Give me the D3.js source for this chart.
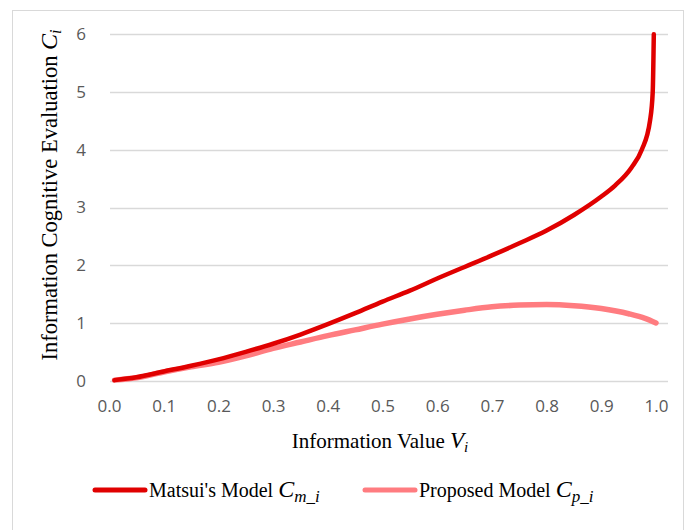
<!DOCTYPE html>
<html><head><meta charset="utf-8">
<script src="https://cdn.jsdelivr.net/npm/d3@7"></script>
<style>body{margin:0;background:#fff}svg{display:block}</style>
</head><body>
<svg id="c" width="695" height="530"></svg>
<script>
// Data
const xTicks = [0.0,0.1,0.2,0.3,0.4,0.5,0.6,0.7,0.8,0.9,1.0];
const yTicks = [0,1,2,3,4,5,6];
const matsuiV = [0.01,0.05,0.1,0.15,0.2,0.25,0.3,0.35,0.4,0.45,0.5,0.55,0.6,0.65,0.7,0.75,0.8,0.85,0.9,0.925,0.955,0.974,0.989,0.994,0.996];
const matsuiC = [0.01,0.06,0.16,0.26,0.37,0.5,0.64,0.8,0.98,1.17,1.37,1.56,1.77,1.97,2.17,2.38,2.6,2.87,3.19,3.38,3.69,4.0,4.5,5.0,6.0];
const proposedV = [0.01,0.05,0.1,0.15,0.2,0.25,0.3,0.35,0.4,0.45,0.5,0.55,0.6,0.65,0.7,0.75,0.8,0.85,0.9,0.95,0.98,1.0];
const proposedC = [0.01,0.05,0.15,0.24,0.32,0.43,0.56,0.67,0.78,0.88,0.98,1.07,1.15,1.22,1.28,1.31,1.32,1.3,1.25,1.16,1.08,1.0];
const seriesNames = ["Matsui's Model ", "Proposed Model "];
const seriesSubs = ["m_i", "p_i"];
const colors = ["#E00000", "#FF7C80"];

const svg = d3.select("#c");
// outer chart border
svg.append("rect").attr("x",12.5).attr("y",10.5).attr("width",671).attr("height",540)
  .attr("fill","#fff").attr("stroke","#D9D9D9").attr("stroke-width",1);

const x = d3.scaleLinear().domain([0,1]).range([109,656]);
const y = d3.scaleLinear().domain([0,6]).range([380.7,34.3]);
const gridX0 = 110, gridX1 = 668;

// gridlines
svg.append("g").selectAll("line").data(yTicks).join("line")
  .attr("x1",gridX0).attr("x2",gridX1)
  .attr("y1",d=>Math.round(y(d))+0.5).attr("y2",d=>Math.round(y(d))+0.5)
  .attr("stroke","#D9D9D9").attr("stroke-width",1.3);

// y tick labels
const yAxis = d3.axisLeft(y).tickValues(yTicks).tickSize(0).tickPadding(0).tickFormat(d3.format("d"));
const gy = svg.append("g").attr("transform",`translate(86,0)`).call(yAxis);
gy.select(".domain").remove();
gy.selectAll("text").attr("font-family","'Open Sans', sans-serif").attr("font-size","17px").attr("fill","#595959");

// x tick labels
const xAxis = d3.axisBottom(x).tickValues(xTicks).tickSize(0).tickPadding(0).tickFormat(d3.format(".1f"));
const gx = svg.append("g").attr("transform",`translate(0,400)`).call(xAxis);
gx.select(".domain").remove();
gx.selectAll("text").attr("font-family","'Open Sans', sans-serif").attr("font-size","17px").attr("fill","#595959");

// lines
const line = d3.line().x(d=>x(d[0])).y(d=>y(d[1])).curve(d3.curveMonotoneX);
const proposed = proposedV.map((v,i)=>[v,proposedC[i]]);
const matsui = matsuiV.map((v,i)=>[v,matsuiC[i]]);
svg.append("path").datum(proposed).attr("d",line).attr("fill","none")
  .attr("stroke",colors[1]).attr("stroke-width",5.5).attr("stroke-linecap","round");
svg.append("path").datum(matsui).attr("d",line).attr("fill","none")
  .attr("stroke",colors[0]).attr("stroke-width",4.5).attr("stroke-linecap","round");

// axis titles
const serif = "'Liberation Serif','Times New Roman',serif";
const xt = svg.append("text").attr("x",380).attr("y",448).attr("text-anchor","middle")
  .attr("font-family",serif).attr("font-size","21px").attr("fill","#000");
xt.append("tspan").text("Information Value ");
xt.append("tspan").attr("font-style","italic").attr("font-size","23px").text("V");
xt.append("tspan").attr("font-style","italic").attr("font-size","15px").attr("dy",4).text("i");

const yt = svg.append("text").attr("transform","translate(57,195) rotate(-90)").attr("text-anchor","middle")
  .attr("font-family",serif).attr("font-size","22.5px").attr("fill","#000");
yt.append("tspan").text("Information Cognitive Evaluation ");
yt.append("tspan").attr("font-style","italic").attr("font-size","24px").text("C");
yt.append("tspan").attr("font-style","italic").attr("font-size","16px").attr("dy",4).text("i");

// legend
const legX = [95, 365];
seriesNames.forEach((name,i)=>{
  const g = svg.append("g").attr("transform",`translate(${legX[i]},490)`);
  g.append("line").attr("x1",0).attr("x2",50).attr("y1",0).attr("y2",0)
    .attr("stroke",colors[i]).attr("stroke-width",5).attr("stroke-linecap","round");
  const t = g.append("text").attr("x",54).attr("y",7).attr("font-family",serif)
    .attr("font-size","20px").attr("fill","#000");
  t.append("tspan").text(name);
  t.append("tspan").attr("font-style","italic").attr("font-size","24px").text("C");
  t.append("tspan").attr("font-style","italic").attr("font-size","17px").attr("dy",5).text(seriesSubs[i]);
});
</script>
</body></html>
